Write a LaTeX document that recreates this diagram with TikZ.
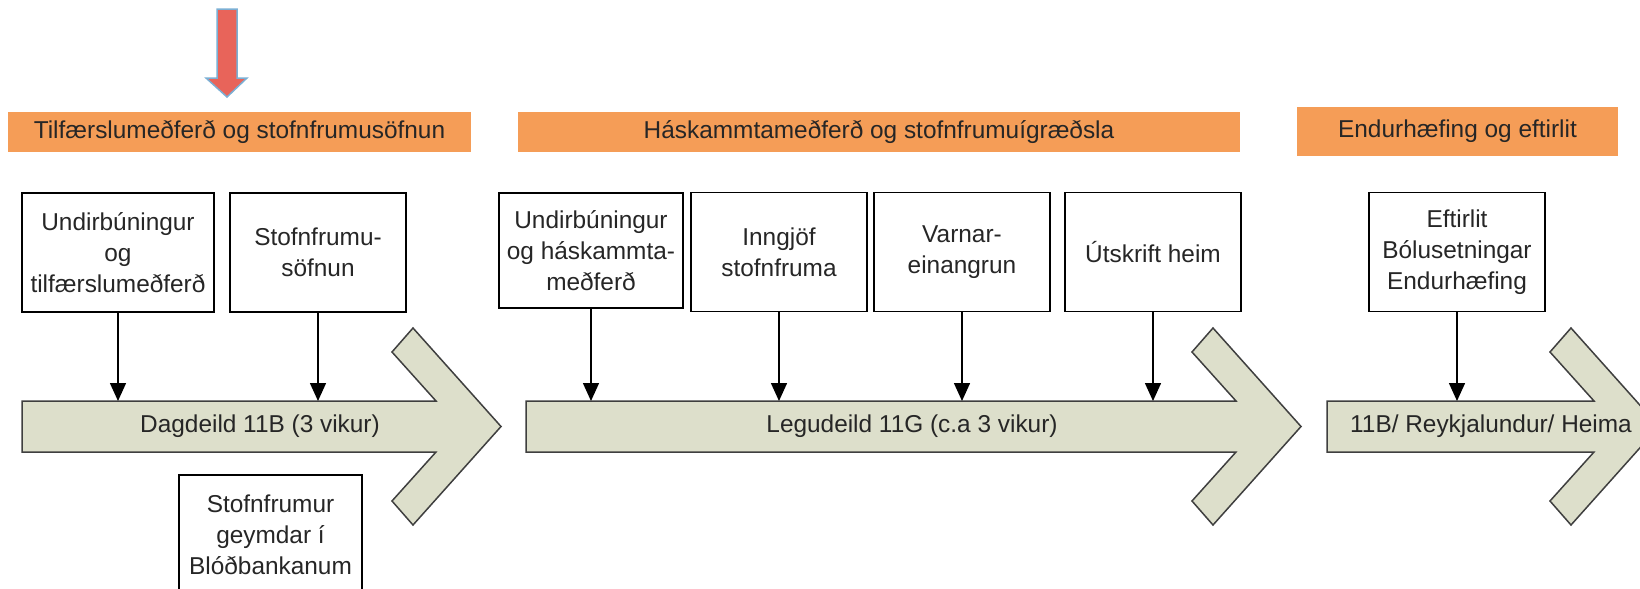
\documentclass[tikz,border=0pt]{standalone}
\usepackage{fontspec}
\setmainfont{Liberation Sans}
\usetikzlibrary{arrows.meta}

\definecolor{phaseorange}{HTML}{F59D57}
\definecolor{arrowfill}{HTML}{DDDFCB}
\definecolor{arrowline}{HTML}{3F3F3F}
\definecolor{pointerred}{HTML}{E8645A}
\definecolor{pointerblue}{HTML}{7BAFD4}

\begin{document}
\begin{tikzpicture}[x=0.5pt,y=-0.5pt,
	every node/.style={font=\fontsize{12.2}{15.5}\selectfont,text=black!85},
	stepbox/.style={rectangle,draw=black,line width=0.8pt,fill=white,align=center,inner sep=0pt,minimum height=59.5pt},
	phasebar/.style={rectangle,fill=phaseorange,inner sep=0pt,minimum height=20pt},
	flowarrow/.style={fill=arrowfill,draw=arrowline,line width=0.75pt,line join=miter},
	feed/.style={line width=0.75pt,-{Triangle[width=8pt,length=9pt]}}]
	
	\useasboundingbox (0,0) rectangle (1640,589);
	\clip (0,0) rectangle (1640,589);
	
	% pointer above the first phase
	\draw[fill=pointerred,draw=pointerblue,line width=0.75pt] (217,9) -- (237,9) -- (237,78) -- (247,78) -- (227,97) -- (206,78) -- (217,78) -- cycle;
	
	% phase headings
	\node(prepbar) [phasebar,minimum width=231.5pt] at (239.5,132) {Tilfærslumeðferð og stofnfrumusöfnun};
	
	\node(treatbar) [phasebar,minimum width=361pt] at (879,132) {Háskammtameðferð og stofnfrumuígræðsla};
	
	\node(rehabbar) [phasebar,minimum width=160.5pt,minimum height=24.5pt] at (1457.5,131.5) {Endurhæfing og eftirlit};
	
	% ward arrows
	\draw[flowarrow] (22,401) -- (436,401) -- (392,352) -- (413,328) -- (501,426.5) -- (413,525) -- (392,501) -- (436,452) -- (22,452) -- cycle;
	
	\coordinate(dayline) at (22,401);
	
	\node(daytext) at (260,426.5) {Dagdeild 11B (3 vikur)};
	
	\draw[flowarrow] (526,401) -- (1236,401) -- (1192,352) -- (1213,328) -- (1301,426.5) -- (1213,525) -- (1192,501) -- (1236,452) -- (526,452) -- cycle;
	
	\coordinate(wardline) at (526,401);
	
	\node(wardtext) at (912,426.5) {Legudeild 11G (c.a 3 vikur)};
	
	\draw[flowarrow] (1327,401) -- (1594,401) -- (1550,352) -- (1571,328) -- (1659,426.5) -- (1571,525) -- (1550,501) -- (1594,452) -- (1327,452) -- cycle;
	
	\coordinate(homeline) at (1327,401);
	
	\node(hometext) at (1491,426.5) {11B/ Reykjalundur/ Heima};
	
	% steps
	\node(prepbox) [stepbox,minimum width=96pt] at (118,252.5) {Undirbúningur\\og\\tilfærslumeðferð};
	
	\node(collectbox) [stepbox,minimum width=88pt] at (318,252.5) {Stofnfrumu-\\söfnun};
	
	\node(condbox) [stepbox,minimum width=92pt,minimum height=57.5pt] at (591,250.5) {Undirbúningur\\og háskammta-\\meðferð};
	
	\node(infusebox) [stepbox,minimum width=88pt] at (779,252) {Inngjöf\\stofnfruma};
	
	\node(isolbox) [stepbox,minimum width=88pt] at (962,252) {Varnar-\\einangrun};
	
	\node(dischargebox) [stepbox,minimum width=88pt] at (1153,252) {Útskrift heim};
	
	\node(followbox) [stepbox,minimum width=88pt] at (1457,252) {Eftirlit\\Bólusetningar\\Endurhæfing};
	
	\node(storebox) [stepbox,minimum width=91.5pt] at (270.5,534.5) {Stofnfrumur\\geymdar í\\Blóðbankanum};
	
	% feeds into the ward arrows
	\draw[feed] (prepbox.south) -- (prepbox.south |- dayline);
	\draw[feed] (collectbox.south) -- (collectbox.south |- dayline);
	\draw[feed] (condbox.south) -- (condbox.south |- wardline);
	\draw[feed] (infusebox.south) -- (infusebox.south |- wardline);
	\draw[feed] (isolbox.south) -- (isolbox.south |- wardline);
	\draw[feed] (dischargebox.south) -- (dischargebox.south |- wardline);
	\draw[feed] (followbox.south) -- (followbox.south |- homeline);
	
\end{tikzpicture}
\end{document}
